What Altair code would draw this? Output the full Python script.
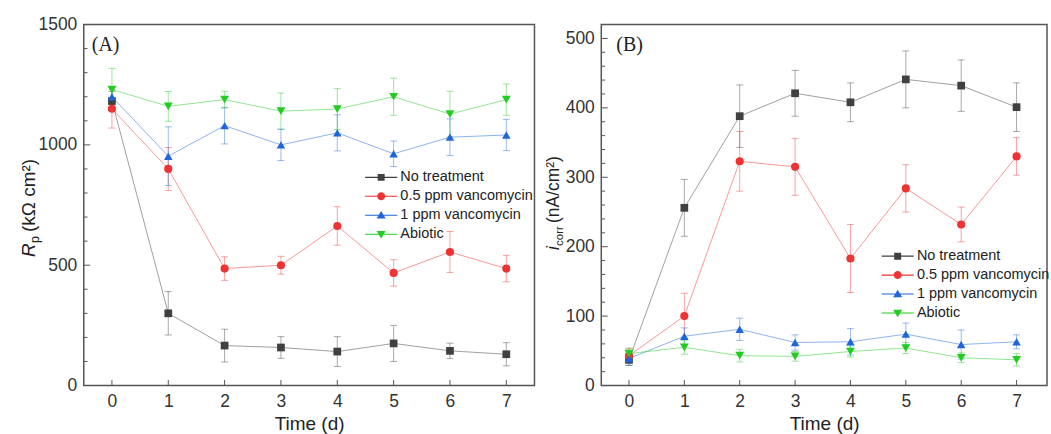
import altair as alt
import pandas as pd

days = [0, 1, 2, 3, 4, 5, 6, 7]
series = ["No treatment", "0.5 ppm vancomycin", "1 ppm vancomycin", "Abiotic"]

# Panel A: Rp (kOhm cm2)
rp_none = [1182, 300, 166, 158, 141, 175, 144, 130]
rp_none_err = [40, 90, 68, 45, 62, 75, 32, 48]
rp_05 = [1150, 900, 486, 500, 663, 468, 555, 486]
rp_05_err = [80, 89, 49, 37, 80, 55, 85, 55]
rp_1 = [1200, 953, 1080, 1000, 1050, 963, 1032, 1041]
rp_1_err = [40, 122, 76, 65, 75, 53, 76, 65]
rp_ab = [1230, 1160, 1188, 1140, 1149, 1200, 1128, 1188]
rp_ab_err = [88, 62, 35, 75, 85, 77, 95, 65]
rp_major = [0, 500, 1000, 1500]
rp_minor = [100, 200, 300, 400, 600, 700, 800, 900, 1100, 1200, 1300, 1400]

# Panel B: icorr (nA/cm2)
ic_none = [37, 256, 388, 421, 408, 441, 432, 401]
ic_none_err = [8, 41, 45, 33, 28, 41, 37, 35]
ic_05 = [43, 100, 323, 315, 183, 284, 232, 330]
ic_05_err = [10, 33, 43, 41, 49, 34, 25, 27]
ic_1 = [39, 71, 81, 62, 63, 74, 59, 63]
ic_1_err = [10, 12, 16, 11, 19, 16, 21, 10]
ic_ab = [46, 55, 43, 42, 49, 54, 40, 37]
ic_ab_err = [8, 10, 9, 7, 8, 8, 7, 9]
ic_major = [0, 100, 200, 300, 400, 500]
ic_minor = [20, 40, 60, 80, 120, 140, 160, 180, 220, 240, 260, 280,
            320, 340, 360, 380, 420, 440, 460, 480, 520]

marker_colors = ["#404040", "#ee3333", "#1f66dd", "#22cc22"]
shapes = ["square", "circle", "triangle-up", "triangle-down"]
sizes = [60, 80, 85, 85]
legend_paths = [
    "M-4.6,-0.16H4.6V0.16H-4.6Z M-1,-1H1V1H-1Z",
    "M-4.6,-0.16H4.6V0.16H-4.6Z M-1.15,0A1.15,1.15,0,1,1,1.15,0A1.15,1.15,0,1,1,-1.15,0Z",
    "M-4.6,-0.16H4.6V0.16H-4.6Z M0,-1.25L1.3,0.95H-1.3Z",
    "M-4.6,-0.16H4.6V0.16H-4.6Z M-1.3,-0.95H1.3L0,1.25Z",
]

FONT = "Liberation Sans"
TICK = "#555"


def make_df(vals, errs):
    rows = []
    for s, v, e in zip(series, vals, errs):
        for d, vv, ee in zip(days, v, e):
            rows.append({"day": d, "value": vv, "lo": vv - ee, "hi": vv + ee,
                         "series": s, "series_l": s})
    return pd.DataFrame(rows)


def txt(s, x, y, size, style="normal", angle=270, font=FONT):
    return alt.Chart(pd.DataFrame({"a": [0]})).mark_text(
        text=s, font=font, fontSize=size, fontStyle=style, angle=angle,
        align="left", baseline="alphabetic", color="#222"
    ).encode(x=alt.value(x), y=alt.value(y))


def panel(vals, errs, ydom, major, minor, xdom, width, height, lx, ly, label, lab_x, title_parts):
    df = make_df(vals, errs)
    xaxis = alt.Axis(values=days, title="Time (d)", grid=False, domain=False,
                     ticks=False, labelPadding=7, labelOverlap=False,
                     titlePadding=5, format="d")
    yaxis = alt.Axis(values=major, title=None, grid=False, domain=False,
                     ticks=False, labelOverlap=False, labelPadding=7, format="d")
    xsc = alt.Scale(domain=xdom, nice=False, zero=False)
    ysc = alt.Scale(domain=ydom, nice=False, zero=True)
    xs = alt.X("day:Q", scale=xsc, axis=xaxis, title="Time (d)")
    ys = alt.Y("value:Q", scale=ysc, axis=yaxis, title=None)
    cscale = alt.Scale(domain=series, range=marker_colors)
    base = alt.Chart(df)
    lines = base.mark_line(strokeWidth=1, opacity=0.5).encode(
        x=xs, y=ys, color=alt.Color("series:N", scale=cscale, legend=None), detail="series:N")
    bars = base.mark_rule(strokeWidth=1, opacity=0.45).encode(
        x=xs, y=alt.Y("lo:Q", scale=ysc, axis=yaxis, title=None), y2="hi:Q",
        color=alt.Color("series:N", scale=cscale, legend=None))
    cap_lo = base.mark_tick(orient="horizontal", size=7, thickness=1, opacity=0.45).encode(
        x=xs, y=alt.Y("lo:Q", scale=ysc, axis=yaxis, title=None),
        color=alt.Color("series:N", scale=cscale, legend=None))
    cap_hi = base.mark_tick(orient="horizontal", size=7, thickness=1, opacity=0.45).encode(
        x=xs, y=alt.Y("hi:Q", scale=ysc, axis=yaxis, title=None),
        color=alt.Color("series:N", scale=cscale, legend=None))
    pts = base.mark_point(filled=True, opacity=1).encode(
        x=xs, y=ys,
        color=alt.Color("series:N", scale=cscale, legend=None),
        shape=alt.Shape("series:N", scale=alt.Scale(domain=series, range=shapes), legend=None),
        size=alt.Size("series:N", scale=alt.Scale(domain=series, range=sizes), legend=None))
    leg = alt.Legend(title=None, orient="none", legendX=lx, legendY=ly, padding=0,
                     symbolSize=49, symbolOffset=13, labelOffset=12, symbolStrokeWidth=0,
                     labelFont=FONT, labelFontSize=14.5, labelColor="#222", rowPadding=4,
                     labelLimit=400, symbolOpacity=1)
    legl = base.transform_filter("false").mark_point(filled=True, opacity=1).encode(
        x=xs, y=ys,
        color=alt.Color("series_l:N", scale=alt.Scale(domain=series, range=marker_colors), legend=leg),
        shape=alt.Shape("series_l:N", scale=alt.Scale(domain=series, range=legend_paths), legend=leg))
    # inward axis ticks, placed through the y / x scales
    ymaj = alt.Chart(pd.DataFrame({"v": major})).mark_rule(color=TICK, strokeWidth=1).encode(
        y=alt.Y("v:Q", scale=ysc, axis=yaxis, title=None), x=alt.value(0), x2=alt.value(6.5))
    ymin = alt.Chart(pd.DataFrame({"v": minor})).mark_rule(color=TICK, strokeWidth=1).encode(
        y=alt.Y("v:Q", scale=ysc, axis=yaxis, title=None), x=alt.value(0), x2=alt.value(3.8))
    xt = alt.Chart(pd.DataFrame({"day": days})).mark_rule(color=TICK, strokeWidth=1).encode(
        x=xs, y=alt.value(height), y2=alt.value(height - 5.5))
    lab = txt(label, lab_x, 27, 20, angle=0, font="Liberation Serif")
    layers = [ymaj, ymin, xt, lines, bars, cap_lo, cap_hi, pts, legl, lab] + [txt(*p) for p in title_parts]
    return alt.layer(*layers).resolve_scale(
        color="independent", shape="independent", size="independent"
    ).properties(width=width, height=height)


titleA = [("R", -49, 233, 19, "italic"), ("p", -45, 219, 12.5), ("\u00a0(kΩ cm²)", -49, 208, 19)]
titleB = [("i", -42, 226, 17.5, "italic"), ("corr", -38, 222, 11.5), ("\u00a0(nA/cm²)", -42, 199, 17.5)]

pA = panel([rp_none, rp_05, rp_1, rp_ab], [rp_none_err, rp_05_err, rp_1_err, rp_ab_err],
           [0, 1500], rp_major, rp_minor, [-0.5, 7.5], 452, 362, 278, 146, "(A)", 8, titleA)
pB = panel([ic_none, ic_05, ic_1, ic_ab], [ic_none_err, ic_05_err, ic_1_err, ic_ab_err],
           [0, 520], ic_major, ic_minor, [-0.5, 7.55], 447, 362, 277, 225, "(B)", 15, titleB)

chart = alt.hconcat(pA, pB, spacing=67, bounds="flush").resolve_scale(
    color="independent", shape="independent", size="independent"
).resolve_legend(color="independent", shape="independent").properties(
    padding={"left": 19, "top": 14, "right": 0, "bottom": 0}, background="white"
).configure_view(stroke="#555", strokeWidth=1.5).configure_axis(
    labelFont=FONT, labelFontSize=17.5, labelColor="#333", titleFont=FONT, titleFontSize=19,
    titleFontWeight="normal", titleColor="#222"
)

chart.save("out.html", embed_options={"renderer": "svg", "actions": False})
